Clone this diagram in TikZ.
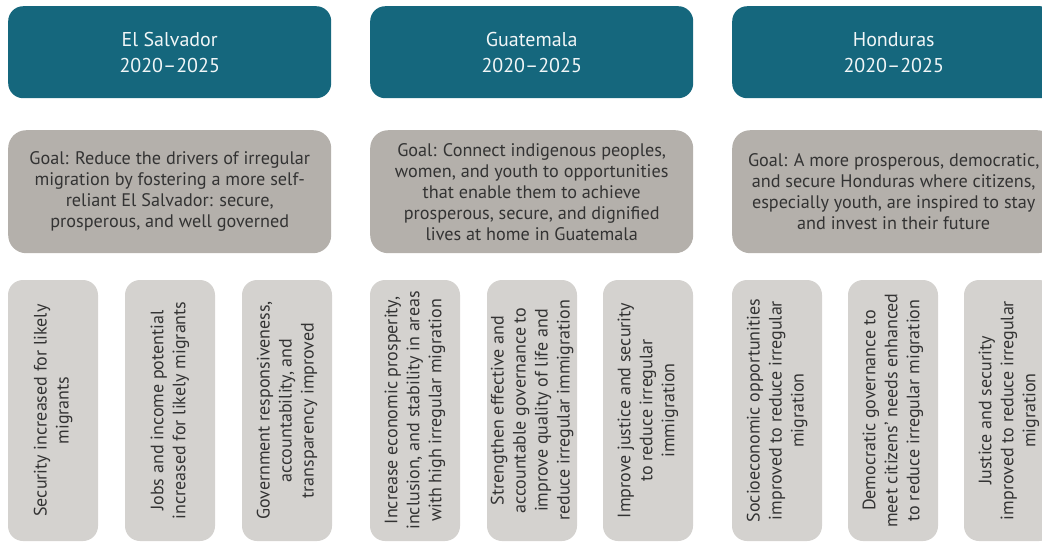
\documentclass[tikz,border=0pt]{standalone}
\usepackage{fontspec}
\setmainfont{PT Sans}
\definecolor{headteal}{HTML}{15677D}
\definecolor{goalgray}{HTML}{B4B0AB}
\definecolor{boxgray}{HTML}{D4D2CF}
\definecolor{inkgray}{HTML}{333333}
\begin{document}
\begin{tikzpicture}[x=1pt,y=-1pt,
  header/.style={fill=headteal, rounded corners=15pt, minimum width=323pt,
    minimum height=92pt, inner sep=0pt, anchor=north west, align=center,
    text=white!94!headteal, font=\fontsize{20}{26}\selectfont},
  goal/.style={fill=goalgray, rounded corners=18pt, minimum width=323pt,
    minimum height=123pt, inner sep=0pt, anchor=north west, align=center,
    text=inkgray, font=\fontsize{18.2}{21}\selectfont},
  result/.style={fill=boxgray, rounded corners=15pt, rotate=90,
    minimum width=261pt, minimum height=90pt, inner sep=0pt, align=center,
    text=inkgray, font=\fontsize{18}{22}\selectfont}]
\useasboundingbox (0,0) rectangle (1042,542);
\clip (0,0) rectangle (1042,542);

% country headers
\node[header] (hsv) at (8,6)   {El Salvador\\2020–2025};
\node[header] (hgt) at (370,6) {Guatemala\\2020–2025};
\node[header] (hhn) at (732,6) {Honduras\\2020–2025};

% goals
\node[goal] (gsv) at (8,130)   {Goal: Reduce the drivers of irregular\\migration by fostering a more self-\\reliant El Salvador: secure,\\prosperous, and well governed};
\node[goal] (ggt) at (370,130) {Goal: Connect indigenous peoples,\\women, and youth to opportunities\\that enable them to achieve\\prosperous, secure, and dignified\\lives at home in Guatemala};
\node[goal] (ghn) at (732,130) {Goal: A more prosperous, democratic,\\and secure Honduras where citizens,\\especially youth, are inspired to stay\\and invest in their future};

% development objectives, El Salvador
\node[result] (rsv1) at (53,410.5)  {Security increased for likely\\migrants};
\node[result] (rsv2) at (170,410.5) {Jobs and income potential\\increased for likely migrants};
\node[result] (rsv3) at (287,410.5) {Government responsiveness,\\accountability, and\\transparency improved};

% development objectives, Guatemala
\node[result] (rgt1) at (415,410.5) {Increase economic prosperity,\\inclusion, and stability in areas\\with high irregular migration};
\node[result] (rgt2) at (532,410.5) {Strengthen effective and\\accountable governance to\\improve quality of life and\\reduce irregular immigration};
\node[result] (rgt3) at (648,410.5) {Improve justice and security\\to reduce irregular\\immigration};

% development objectives, Honduras
\node[result] (rhn1) at (777,410.5)  {Socioeconomic opportunities\\improved to reduce irregular\\migration};
\node[result] (rhn2) at (893,410.5)  {Democratic governance to\\meet citizens’ needs enhanced\\to reduce irregular migration};
\node[result] (rhn3) at (1009,410.5) {Justice and security\\improved to reduce irregular\\migration};
\end{tikzpicture}
\end{document}
